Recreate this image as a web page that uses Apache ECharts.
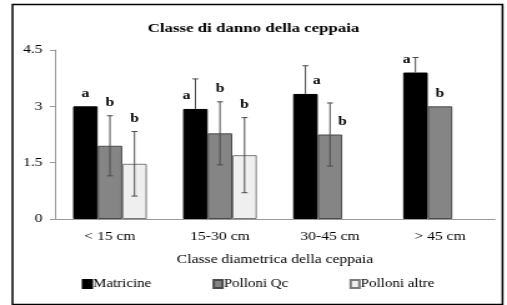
<!DOCTYPE html>
<html>
<head>
<meta charset="utf-8">
<script src="https://cdn.jsdelivr.net/npm/echarts@6/dist/echarts.min.js"></script>
<style>
html, body { margin: 0; padding: 0; background: #fff; overflow: hidden; }
/* the original figure is stretched sideways, so draw narrow and widen */
#chart { width: 406px; height: 305px; transform-origin: 0 0; transform: scaleX(1.2488); }
</style>
</head>
<body>
<div id="chart"></div>
<script>
const categories = ['< 15 cm', '15-30 cm', '30-45 cm', '> 45 cm']
const seriesNames = ['Matricine', 'Polloni Qc', 'Polloni altre']
const matricine = [3.0, 2.93, 3.33, 3.9]
const matricineErr = [0, 0.8, 0.75, 0.4]
const polloniQc = [1.95, 2.28, 2.25, 3.0]
const polloniQcErr = [0.8, 0.84, 0.84, 0]
const polloniAltre = [1.47, 1.7, null, null]
const polloniAltreErr = [0.86, 1.0, null, null]
const lettersMatricine = ['a', 'a', 'a', 'a']
const lettersQc = ['b', 'b', 'b', 'b']
const lettersAltre = ['b', 'b', null, null]
const yTicks = [0, 1.5, 3, 4.5]

const values = [matricine, polloniQc, polloniAltre]
const errors = [matricineErr, polloniQcErr, polloniAltreErr]
const letters = [lettersMatricine, lettersQc, lettersAltre]

// letters sitting beside the error bar instead of above it (px shift)
const letterDx = [[0, -7, 9, -7], [0, 0, 10, 0], [0, 0, 0, 0]]

const serif = '"Liberation Serif", "DejaVu Serif", serif'
const barStyles = [
  { color: '#000', borderColor: '#000', borderWidth: 1 },
  { color: '#858585', borderColor: '#4a4a4a', borderWidth: 1 },
  { color: '#efefef', borderColor: '#7a7a7a', borderWidth: 1 }
]
const catGap = 0.33

const extra = []
values.forEach((arr, s) => {
  arr.forEach((v, c) => {
    if (v == null) return
    extra.push([c, s, v, errors[s][c], letters[s][c]])
  })
})

const chart = echarts.init(document.getElementById('chart'))
chart.setOption({
  animation: false,
  title: {
    text: 'Classe di danno della ceppaia',
    left: 'center',
    top: 17,
    textStyle: { fontFamily: serif, fontSize: 13.5, fontWeight: 'bold', color: '#000' }
  },
  legend: {
    data: seriesNames,
    left: 65.5,
    top: 278,
    padding: 0,
    icon: 'rect',
    itemWidth: 7,
    itemHeight: 8,
    itemGap: 49,
    textStyle: { fontFamily: serif, fontSize: 12, color: '#000', padding: [0, 0, 0, -4] }
  },
  grid: { left: 44, right: 9.6, top: 50, bottom: 86 },
  xAxis: {
    type: 'category',
    data: categories,
    name: 'Classe diametrica della ceppaia',
    nameLocation: 'middle',
    nameGap: 34,
    nameTextStyle: { fontFamily: serif, fontSize: 12.5, color: '#000' },
    axisLine: { lineStyle: { color: '#999' } },
    axisTick: { length: 4, lineStyle: { color: '#999' } },
    axisLabel: { fontFamily: serif, fontSize: 12.5, color: '#000', margin: 11 }
  },
  yAxis: {
    type: 'value',
    min: yTicks[0],
    max: yTicks[yTicks.length - 1],
    interval: yTicks[1] - yTicks[0],
    axisLine: { show: true, lineStyle: { color: '#999' } },
    axisTick: { show: true, length: 4, lineStyle: { color: '#999' } },
    splitLine: { show: false },
    axisLabel: { fontFamily: serif, fontSize: 12.5, color: '#000', margin: 10 }
  },
  series: seriesNames.map((name, s) => ({
    type: 'bar',
    name: name,
    data: values[s],
    barGap: 0,
    barCategoryGap: (catGap * 100) + '%',
    itemStyle: barStyles[s]
  })).concat([{
    type: 'custom',
    data: extra,
    encode: { x: 0, y: 2 },
    z: 10,
    renderItem: function (params, api) {
      const c = api.value(0), s = api.value(1), v = api.value(2)
      const e = api.value(3) || 0
      const letter = extra[params.dataIndex][4]
      const band = api.size([1, 0])[0]
      const bw = band * (1 - catGap) / 3
      const x = api.coord([c, v])[0] + (s - 1) * bw
      const children = []
      if (e > 0) {
        const yt = api.coord([c, v + e])[1]
        // lower half of the black bars' whisker is hidden inside the bar
        const yb = s === 0 ? api.coord([c, v])[1] : api.coord([c, v - e])[1]
        const ls = { stroke: '#4a4a4a', lineWidth: 1 }
        children.push(
          { type: 'line', shape: { x1: x, y1: yt, x2: x, y2: yb }, style: ls },
          { type: 'line', shape: { x1: x - 2.4, y1: yt, x2: x + 2.4, y2: yt }, style: ls }
        )
        if (s !== 0) {
          children.push({ type: 'line', shape: { x1: x - 2.4, y1: yb, x2: x + 2.4, y2: yb }, style: ls })
        }
      }
      if (letter) {
        const dx = letterDx[s][c]
        const anchor = dx ? api.coord([c, v])[1] : api.coord([c, v + e])[1]
        children.push({
          type: 'text',
          style: {
            text: letter, x: x + dx, y: anchor - 13,
            textAlign: 'center', textVerticalAlign: 'middle',
            fontFamily: serif, fontSize: 12.5, fontWeight: 'bold', fill: '#000'
          }
        })
      }
      return { type: 'group', children: children }
    }
  }]),
  graphic: [{
    type: 'rect',
    shape: { x: 10, y: 4.5, width: 392.4, height: 300 },
    style: { fill: 'none', stroke: '#000', lineWidth: 1.5 },
    silent: true
  }]
})
</script>
</body>
</html>
